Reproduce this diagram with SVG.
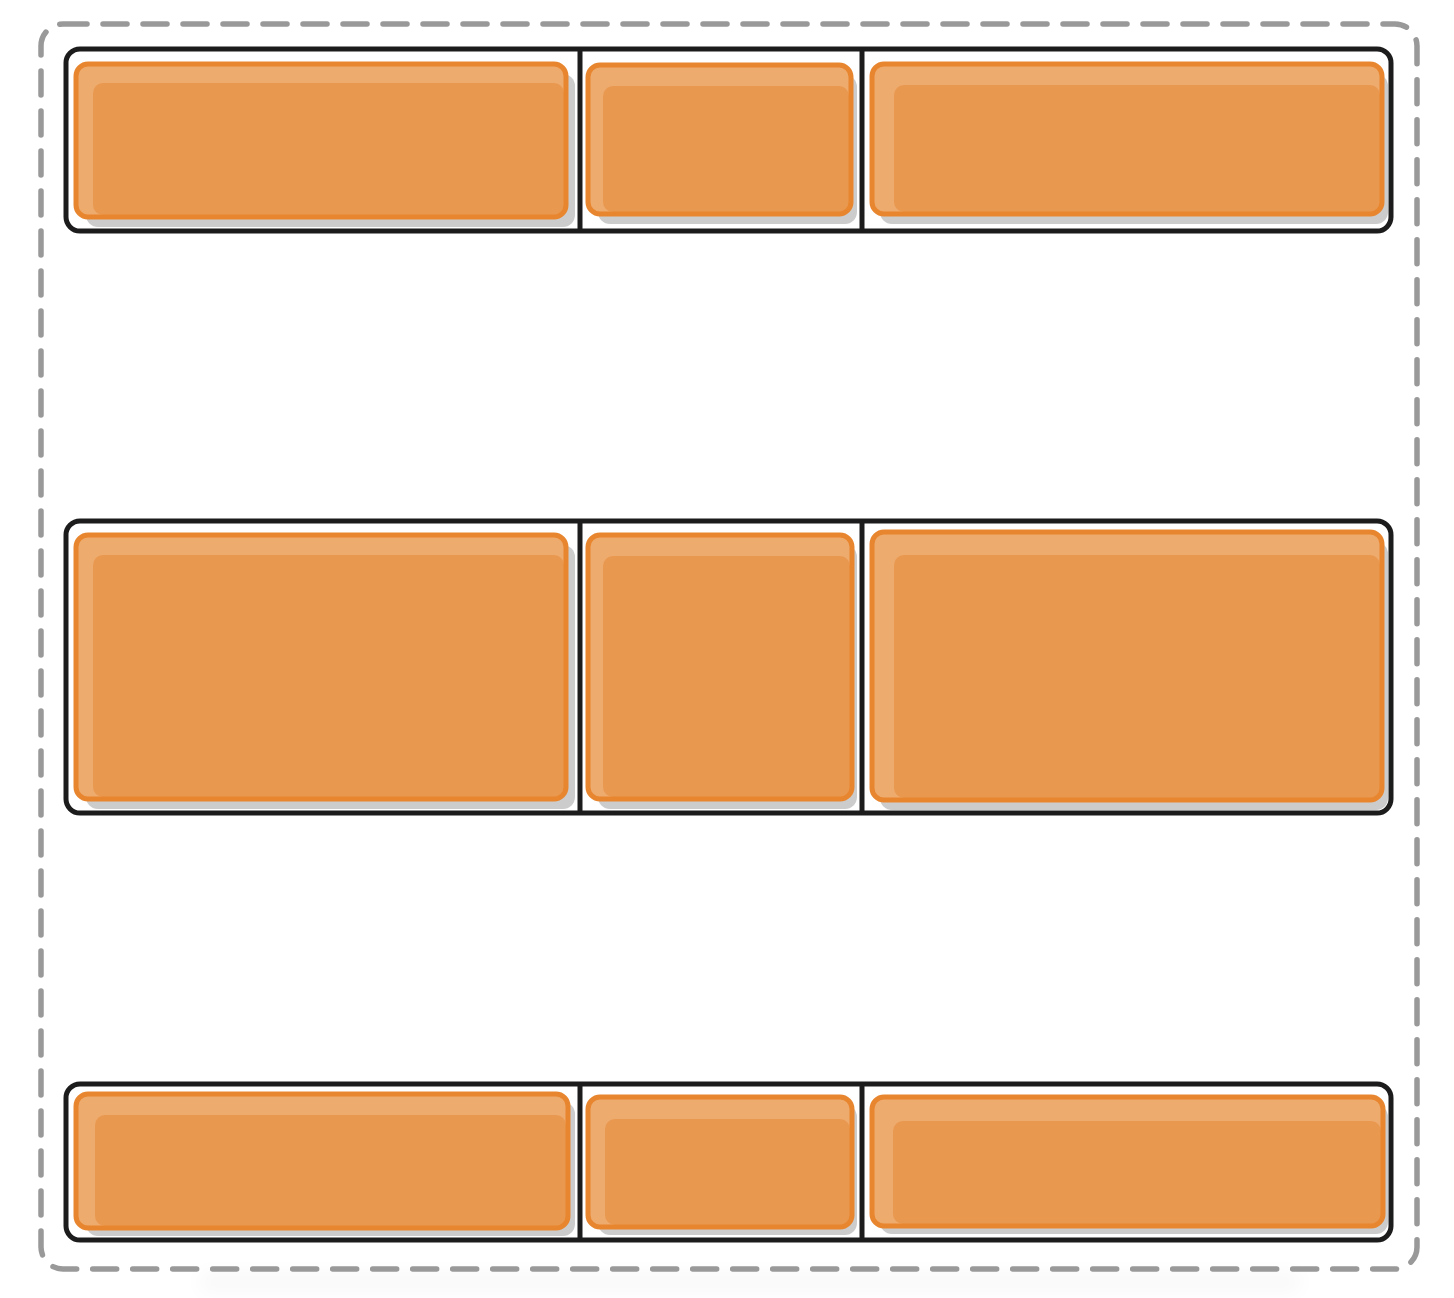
<svg xmlns="http://www.w3.org/2000/svg" width="1454" height="1298" viewBox="0 0 1454 1298">
<defs>
<style>
.frame{fill:none;stroke:#999999;stroke-width:5.5;stroke-dasharray:24 16;stroke-linecap:round}
.row{fill:#ffffff;stroke:#1c1c1c;stroke-width:5}
.div{stroke:#1c1c1c;stroke-width:5}
.sh{fill:#cccccc}
.hl{fill:#EEAB6E}
.body{fill:#E99850}
.edge{fill:none;stroke:#E8862F;stroke-width:5}
</style>
<filter id="blur" x="-20%" y="-200%" width="140%" height="500%"><feGaussianBlur stdDeviation="10"/></filter>
</defs>
<rect x="200" y="1274" width="1100" height="16" fill="#000" opacity="0.035" filter="url(#blur)"/>
<rect id="frame" class="frame" x="41" y="24" width="1376" height="1245" rx="22"/>

<g id="row1">
<rect class="row" x="66" y="49" width="1325" height="182" rx="14"/>
<line class="div" x1="580" y1="49" x2="580" y2="231"/>
<line class="div" x1="862" y1="49" x2="862" y2="231"/>
</g>
<g id="row2">
<rect class="row" x="66" y="521" width="1325" height="292" rx="14"/>
<line class="div" x1="580" y1="521" x2="580" y2="813"/>
<line class="div" x1="862" y1="521" x2="862" y2="813"/>
</g>
<g id="row3">
<rect class="row" x="66" y="1084" width="1325" height="156" rx="14"/>
<line class="div" x1="580" y1="1084" x2="580" y2="1240"/>
<line class="div" x1="862" y1="1084" x2="862" y2="1240"/>
</g>

<!-- boxes row 1 -->
<g id="b11"><rect class="sh" x="86" y="74" width="489" height="153" rx="12"/><rect class="hl" x="76" y="64" width="490" height="153" rx="12"/><rect class="body" x="93" y="83" width="471" height="132" rx="10"/><rect class="edge" x="76" y="64" width="490" height="153" rx="12"/></g>
<g id="b12"><rect class="sh" x="598" y="75" width="259" height="149" rx="12"/><rect class="hl" x="588" y="65" width="263" height="149" rx="12"/><rect class="body" x="603" y="86" width="246" height="126" rx="10"/><rect class="edge" x="588" y="65" width="263" height="149" rx="12"/></g>
<g id="b13"><rect class="sh" x="880" y="74" width="508" height="150" rx="12"/><rect class="hl" x="872" y="64" width="510" height="150" rx="12"/><rect class="body" x="894" y="85" width="486" height="127" rx="10"/><rect class="edge" x="872" y="64" width="510" height="150" rx="12"/></g>

<!-- boxes row 2 -->
<g id="b21"><rect class="sh" x="86" y="545" width="489" height="264" rx="12"/><rect class="hl" x="76" y="535" width="490" height="264" rx="12"/><rect class="body" x="93" y="555" width="471" height="242" rx="10"/><rect class="edge" x="76" y="535" width="490" height="264" rx="12"/></g>
<g id="b22"><rect class="sh" x="598" y="545" width="259" height="264" rx="12"/><rect class="hl" x="588" y="535" width="264" height="264" rx="12"/><rect class="body" x="603" y="556" width="247" height="241" rx="10"/><rect class="edge" x="588" y="535" width="264" height="264" rx="12"/></g>
<g id="b23"><rect class="sh" x="880" y="542" width="508" height="268" rx="12"/><rect class="hl" x="872" y="532" width="510" height="268" rx="12"/><rect class="body" x="894" y="555" width="486" height="243" rx="10"/><rect class="edge" x="872" y="532" width="510" height="268" rx="12"/></g>

<!-- boxes row 3 -->
<g id="b31"><rect class="sh" x="86" y="1102" width="489" height="134" rx="12"/><rect class="hl" x="76" y="1094" width="492" height="134" rx="12"/><rect class="body" x="95" y="1115" width="471" height="111" rx="10"/><rect class="edge" x="76" y="1094" width="492" height="134" rx="12"/></g>
<g id="b32"><rect class="sh" x="598" y="1105" width="259" height="130" rx="12"/><rect class="hl" x="588" y="1097" width="264" height="130" rx="12"/><rect class="body" x="605" y="1119" width="245" height="106" rx="10"/><rect class="edge" x="588" y="1097" width="264" height="130" rx="12"/></g>
<g id="b33"><rect class="sh" x="880" y="1105" width="508" height="129" rx="12"/><rect class="hl" x="872" y="1097" width="511" height="129" rx="12"/><rect class="body" x="893" y="1121" width="488" height="103" rx="10"/><rect class="edge" x="872" y="1097" width="511" height="129" rx="12"/></g>

<g id="connectors"></g>
</svg>
